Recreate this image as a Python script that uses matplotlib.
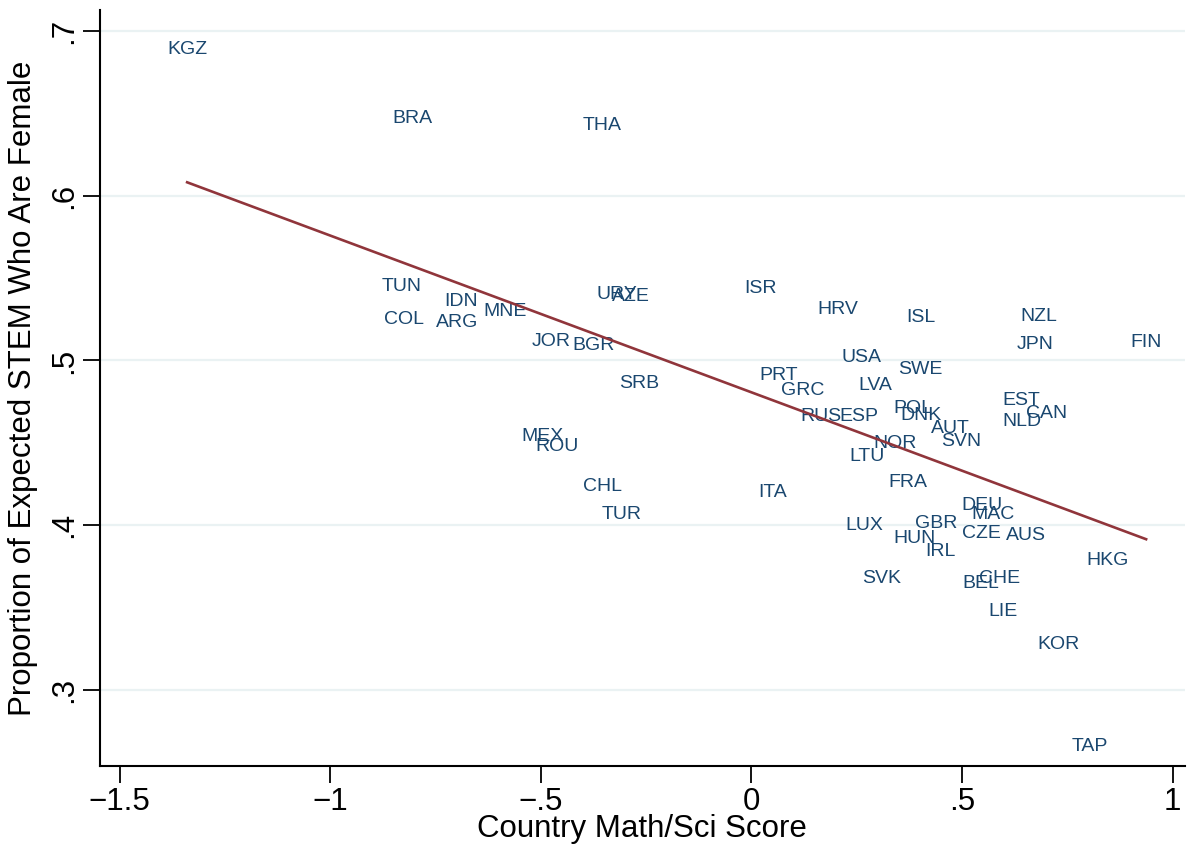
import numpy as np
import matplotlib
matplotlib.use("Agg")
import matplotlib.pyplot as plt

# Country codes with math/science score (x) and female share of expected STEM (y)
countries = ["KGZ", "BRA", "THA", "TUN", "COL", "IDN", "ARG", "MNE", "JOR", "BGR",
             "URY", "AZE", "SRB", "MEX", "ROU", "CHL", "TUR", "ISR", "HRV", "ISL",
             "NZL", "JPN", "FIN", "USA", "SWE", "PRT", "GRC", "LVA", "RUS", "ESP",
             "POL", "DNK", "AUT", "SVN", "NOR", "LTU", "FRA", "EST", "NLD", "CAN",
             "ITA", "LUX", "GBR", "HUN", "IRL", "DEU", "MAC", "CZE", "AUS", "BEL",
             "CHE", "LIE", "SVK", "HKG", "KOR", "TAP"]
math_sci = [-1.340, -0.806, -0.355, -0.830, -0.825, -0.690, -0.699, -0.585, -0.476, -0.376,
            -0.320, -0.286, -0.267, -0.497, -0.462, -0.353, -0.308, 0.022, 0.205, 0.402,
            0.682, 0.673, 0.937, 0.262, 0.402, 0.065, 0.122, 0.293, 0.165, 0.255,
            0.384, 0.402, 0.473, 0.497, 0.340, 0.274, 0.372, 0.641, 0.642, 0.701,
            0.050, 0.269, 0.438, 0.388, 0.449, 0.547, 0.573, 0.547, 0.651, 0.544,
            0.590, 0.597, 0.309, 0.846, 0.730, 0.803]
female_share = [0.690, 0.648, 0.644, 0.546, 0.526, 0.537, 0.524, 0.531, 0.513, 0.510,
                0.541, 0.540, 0.487, 0.455, 0.449, 0.425, 0.408, 0.545, 0.532, 0.527,
                0.528, 0.511, 0.512, 0.503, 0.496, 0.492, 0.483, 0.486, 0.467, 0.467,
                0.472, 0.468, 0.460, 0.452, 0.451, 0.443, 0.427, 0.477, 0.464, 0.469,
                0.421, 0.401, 0.402, 0.393, 0.385, 0.413, 0.408, 0.396, 0.395, 0.366,
                0.369, 0.349, 0.369, 0.380, 0.329, 0.267]

x_ticks = [-1.5, -1, -0.5, 0, 0.5, 1]
x_ticklabels = ["\u22121.5", "\u22121", "\u2212.5", "0", ".5", "1"]
y_ticks = [0.3, 0.4, 0.5, 0.6, 0.7]
y_ticklabels = [".3", ".4", ".5", ".6", ".7"]

label_color = "#1a476f"
fit_color = "#90353b"
grid_color = "#eaf2f3"
axis_font = "Liberation Sans"

x = np.array(math_sci)
y = np.array(female_share)

fig = plt.figure(figsize=(11.87, 8.46), dpi=100)
ax = fig.add_axes([0.0842, 0.0946, 0.914, 0.8936])

for yt in y_ticks:
    ax.axhline(yt, color=grid_color, linewidth=1.6, zorder=0)

# country codes centred on their points
for name, xi, yi in zip(countries, x, y):
    ax.annotate(name, (xi, yi), xytext=(0, -2), textcoords="offset pixels",
                ha="center", va="center", fontsize=14,
                color=label_color, family="Liberation Sans", zorder=2)

# linear fit across the observed range
slope, intercept = np.polyfit(x, y, 1)
xs = np.array([x.min(), x.max()])
ax.plot(xs, intercept + slope * xs, color=fit_color, linewidth=1.9, zorder=3)

ax.set_xlim(-1.547, 1.029)
ax.set_ylim(0.2539, 0.7127)

ax.spines["top"].set_visible(False)
ax.spines["right"].set_visible(False)
for s in ("left", "bottom"):
    ax.spines[s].set_linewidth(1.5)

ax.set_xticks(x_ticks)
ax.set_xticklabels(x_ticklabels, family=axis_font, fontsize=22.5)
ax.set_yticks(y_ticks)
ax.set_yticklabels(y_ticklabels, family=axis_font, fontsize=22.5,
                   rotation=90, va="center")
ax.tick_params(length=12, width=1.3, pad=3)

ax.set_xlabel("Country Math/Sci Score", family=axis_font, fontsize=22.5, labelpad=-2)
ax.set_ylabel("Proportion of Expected STEM Who Are Female", family=axis_font,
              fontsize=22.5, labelpad=8)

fig.savefig("out.png", dpi=100)
